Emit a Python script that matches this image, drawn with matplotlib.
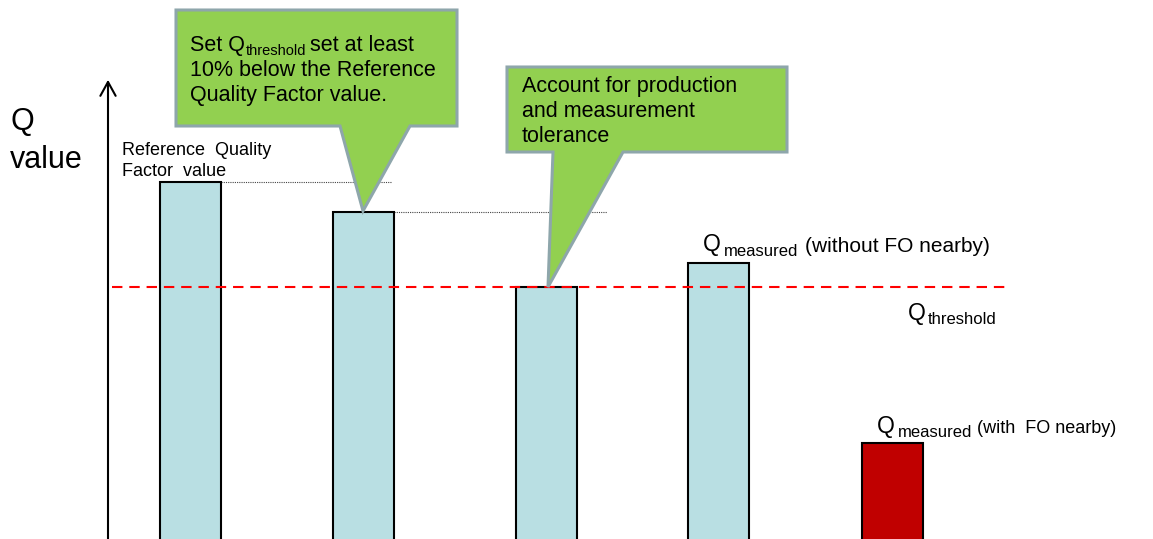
import matplotlib
matplotlib.use("Agg")
import matplotlib.pyplot as plt
from matplotlib.patches import Polygon

plt.rcParams['font.family'] = ['Liberation Sans', 'DejaVu Sans']

# ---- data (arbitrary Q units) ----
bar_names = ["Reference", "Set threshold", "Threshold", "Measured (no FO)", "Measured (FO nearby)"]
q_values = [100, 92, 72, 78.5, 30.4]
q_threshold = 72
bar_colors = ["#B9DFE3", "#B9DFE3", "#B9DFE3", "#B9DFE3", "#C00000"]

W, H = 1153, 539
fig = plt.figure(figsize=(W / 100, H / 100), dpi=100)
ax = fig.add_axes([0, 0, 1, 1])
ax.set_xlim(0, W)
ax.set_ylim(4.8, 148.53)
ax.axis("off")

xpos = [190.5, 363, 546.5, 718.5, 892]
bw = 61
ax.bar(xpos, q_values, width=bw, color=bar_colors, edgecolor="black", linewidth=1.5, zorder=2)

# threshold line
ax.plot([112, 1005], [q_threshold, q_threshold], color="#FF0000", lw=1.5,
        linestyle=(0, (5, 3.3)), zorder=3)
# dotted guide lines
ax.plot([xpos[0] + bw / 2, 392], [q_values[0], q_values[0]], color="#444444", lw=0.8,
        linestyle=(0, (1, 1)), zorder=1)
ax.plot([xpos[1] + bw / 2, 607], [q_values[1], q_values[1]], color="#444444", lw=0.8,
        linestyle=(0, (1, 1)), zorder=1)

# overlay in pixel coordinates
ov = fig.add_axes([0, 0, 1, 1], zorder=5)
ov.set_xlim(0, W)
ov.set_ylim(H, 0)
ov.axis("off")
ov.patch.set_alpha(0)

def to_px(x, y):
    fx, fy = ax.transData.transform((x, y))
    return fx * W / fig.bbox.width, H - fy * H / fig.bbox.height

# y axis arrow
ov.annotate("", xy=(108, 77), xytext=(108, H + 5),
            arrowprops=dict(arrowstyle="->,head_length=1.0,head_width=0.55", lw=1.5, color="black"))
ov.text(10, 130, "Q", fontsize=22, va="baseline")
ov.text(10, 168, "value", fontsize=22, va="baseline")

ov.text(122, 155, "Reference  Quality", fontsize=13, va="baseline")
ov.text(122, 176, "Factor  value", fontsize=13, va="baseline")

green = "#92D050"
border = "#8EA6AB"
fs = 15.5
# callout 1
tx, ty = to_px(xpos[1], q_values[1])
poly1 = [(176, 10), (457, 10), (457, 126), (410, 126), (tx, ty - 1), (340, 126), (176, 126)]
ov.add_patch(Polygon(poly1, closed=True, facecolor=green, edgecolor=border, lw=2.2, zorder=6))
ov.text(190, 51, "Set Q", fontsize=fs, va="baseline", zorder=7)
ov.text(246, 55, "threshold", fontsize=10.5, va="baseline", zorder=7)
ov.text(310, 51, "set at least", fontsize=fs, va="baseline", zorder=7)
ov.text(190, 76, "10% below the Reference", fontsize=fs, va="baseline", zorder=7)
ov.text(190, 101, "Quality Factor value.", fontsize=fs, va="baseline", zorder=7)

# callout 2
tx, ty = to_px(xpos[2], q_values[2])
poly2 = [(507, 67), (787, 67), (787, 152), (623, 152), (548, ty), (553, 152), (507, 152)]
ov.add_patch(Polygon(poly2, closed=True, facecolor=green, edgecolor=border, lw=2.2, zorder=6))
ov.text(522, 92, "Account for production", fontsize=fs, va="baseline", zorder=7)
ov.text(522, 117, "and measurement", fontsize=fs, va="baseline", zorder=7)
ov.text(522, 142, "tolerance", fontsize=fs, va="baseline", zorder=7)

# labels
ov.text(703, 251, "Q", fontsize=16.5, va="baseline")
ov.text(724, 256, "measured", fontsize=12, va="baseline")
ov.text(805, 252, "(without FO nearby)", fontsize=15, va="baseline")

ov.text(908, 320, "Q", fontsize=16.5, va="baseline")
ov.text(928, 324, "threshold", fontsize=12, va="baseline")

ov.text(877, 433, "Q", fontsize=16.5, va="baseline")
ov.text(898, 437, "measured", fontsize=12, va="baseline")
ov.text(977, 433, "(with  FO nearby)", fontsize=13, va="baseline")

fig.savefig("out.png", dpi=100)
